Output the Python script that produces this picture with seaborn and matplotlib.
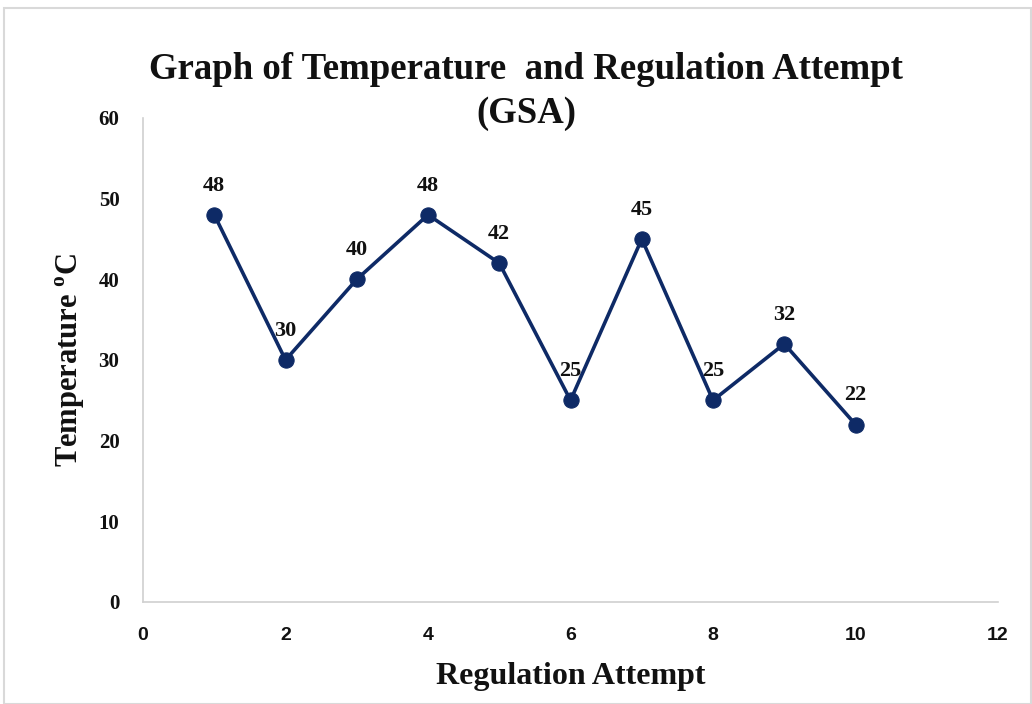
import numpy as np
import pandas as pd
import matplotlib
matplotlib.use('Agg')
import matplotlib.pyplot as plt
import seaborn as sns
from matplotlib.patches import Rectangle

# chart values
attempts = [1, 2, 3, 4, 5, 6, 7, 8, 9, 10]
temperatures = [48, 30, 40, 48, 42, 25, 45, 25, 32, 22]
x_ticks = [0, 2, 4, 6, 8, 10, 12]
y_ticks = [0, 10, 20, 30, 40, 50, 60]

df = pd.DataFrame({'Attempt': attempts, 'Temperature': temperatures})

sns.set_style('white')
serif = ['Liberation Serif', 'DejaVu Serif']
plt.rcParams['font.family'] = serif

line_color = '#0e2a66'
axis_color = '#d0d0d0'
text_color = '#111111'

fig = plt.figure(figsize=(10.32, 7.04), dpi=100)
ax = fig.add_axes([0.1386, 0.1449, 0.8285, 0.6875])

sns.lineplot(data=df, x='Attempt', y='Temperature', ax=ax, color=line_color,
             linewidth=2.6, marker='o', markersize=11, markeredgecolor=line_color)

# data labels above each point
for xv, yv in zip(attempts, temperatures):
    ax.annotate(str(yv), (xv, yv), xytext=(0, 21), textcoords='offset points',
                ha='center', va='center', fontsize=16, fontweight='bold',
                family=serif, color=text_color)

ax.set_xlim(0, 12)
ax.set_ylim(0, 60)
ax.set_xticks(x_ticks)
ax.set_yticks(y_ticks)
ax.set_xticklabels([str(t) for t in x_ticks], fontsize=14, fontweight='bold',
                   family=['Liberation Sans Narrow', 'Liberation Sans', 'DejaVu Sans'])
ax.set_yticklabels([str(t) for t in y_ticks], fontsize=15, fontweight='bold', family=serif)
ax.tick_params(axis='x', length=0, pad=18, colors=text_color)
ax.tick_params(axis='y', length=0, pad=17, colors=text_color)

for side in ['top', 'right']:
    ax.spines[side].set_visible(False)
for side in ['left', 'bottom']:
    ax.spines[side].set_color(axis_color)
    ax.spines[side].set_linewidth(1.2)

ax.set_xlabel('Regulation Attempt', fontsize=23, fontweight='bold', family=serif,
              labelpad=13, color=text_color)
ax.set_ylabel('Temperature $^{\\mathregular{o}}$C', fontsize=22, fontweight='bold',
              family=serif, labelpad=8, color=text_color)

fig.text(0.51, 0.87, 'Graph of Temperature  and Regulation Attempt\n(GSA)',
         ha='center', va='center', fontsize=26.5, fontweight='bold', family=serif,
         linespacing=1.3, color=text_color)

# chart area border
fig.patches.append(Rectangle((0.004, 0.0), 0.995, 0.988, transform=fig.transFigure,
                             fill=False, edgecolor='#d9d9d9', linewidth=1.5))

fig.savefig('out.png', dpi=100)
